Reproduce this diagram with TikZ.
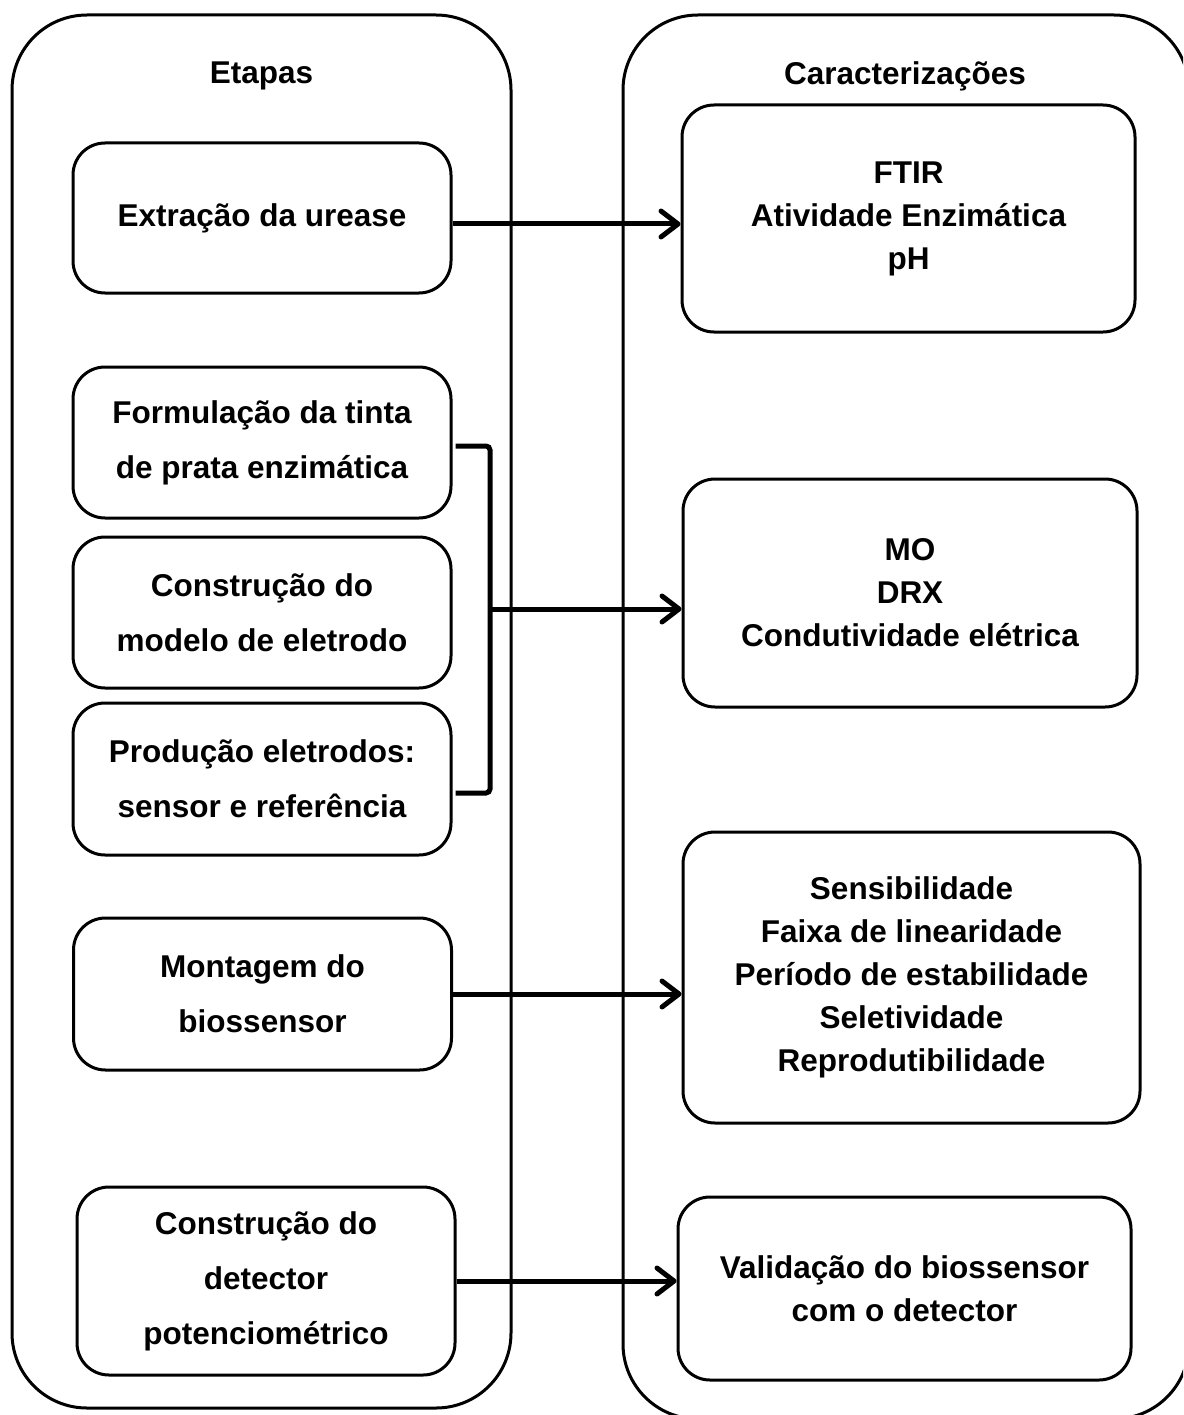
\documentclass[tikz,border=0pt]{standalone}
\usepackage{fontspec}
\setmainfont{Liberation Sans}
\usetikzlibrary{arrows.meta}
\begin{document}
\begin{tikzpicture}[x=1pt,y=-1pt,
  outer/.style={draw, line width=3pt, rounded corners=75pt, inner sep=0pt},
  stepbox/.style={draw, line width=3pt, rounded corners=32pt, align=center, inner sep=0pt,
    minimum width=378pt, font=\bfseries\fontsize{31.5}{55}\selectfont},
  charbox/.style={draw, line width=3pt, rounded corners=32pt, align=center, inner sep=0pt,
    font=\bfseries\fontsize{31.5}{43}\selectfont},
  head/.style={anchor=base, font=\bfseries\fontsize{31.5}{38}\selectfont},
  link/.style={line width=5pt, -{Straight Barb[length=17pt,width=26pt,round]}},
  brk/.style={line width=5pt, rounded corners=4pt}
]
\useasboundingbox (0,0) rectangle (1183,1415);
\clip (0,0) rectangle (1183,1415);

% outer containers
\node[outer, minimum width=499pt, minimum height=1393pt] (L) at (261.5,711.5) {};
\node[outer, minimum width=566pt, minimum height=1404pt] (R) at (906,717) {};
\node[head] (hL) at (261.5,84) {Etapas};
\node[head] (hR) at (905,85) {Caracterizações};

% steps
\node[stepbox, minimum height=150pt] (b1) at (262,218) {Extração da urease};
\node[stepbox, minimum height=151pt] (b2) at (262,442.5) {Formulação da tinta\\de prata enzimática};
\node[stepbox, minimum height=151pt] (b3) at (262,612.5) {Construção do\\modelo de eletrodo};
\node[stepbox, minimum height=152pt] (b4) at (262,779) {Produção eletrodos:\\sensor e referência};
\node[stepbox, minimum height=152pt] (b5) at (262.5,994) {Montagem do\\biossensor};
\node[stepbox, minimum height=188pt] (b6) at (266,1281) {Construção do\\detector\\potenciométrico};

% characterizations
\node[charbox, minimum width=453pt, minimum height=227pt] (r1) at (908.5,218.5) {FTIR\\Atividade Enzimática\\pH};
\node[charbox, minimum width=454pt, minimum height=228pt] (r2) at (910,593) {MO\\DRX\\Condutividade elétrica};
\node[charbox, minimum width=457pt, minimum height=291pt] (r3) at (911.5,977.5) {Sensibilidade\\Faixa de linearidade\\Período de estabilidade\\Seletividade\\Reprodutibilidade};
\node[charbox, minimum width=453pt, minimum height=183pt] (r4) at (904.5,1288.5) {Validação do biossensor\\com o detector};

% connectors
\draw[link] ([yshift=-6pt]b1.east) -- ([yshift=-6pt]b1.east -| r1.west);

\coordinate (bt) at ([xshift=3pt,yshift=-3.5pt]b2.east);
\coordinate (bb) at ([xshift=3pt,yshift=-14pt]b4.east);
\coordinate (bm) at (490,609);
\draw[brk] (bt) -- (bt -| bm) -- (bb -| bm) -- (bb);
\draw[link] (bm) -- (bm -| r2.west);

\draw[link] (b5.east) -- (b5.east -| r3.west);
\draw[link] (b6.east) -- (b6.east -| r4.west);
\end{tikzpicture}
\end{document}
